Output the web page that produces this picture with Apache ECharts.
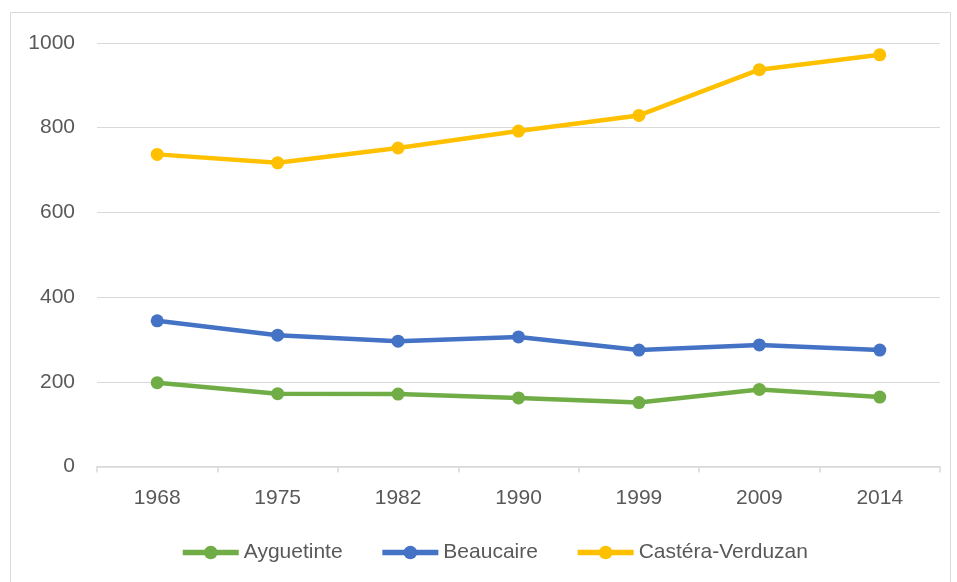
<!DOCTYPE html>
<html>
<head>
<meta charset="utf-8">
<script src="https://cdn.jsdelivr.net/npm/echarts@6/dist/echarts.min.js"></script>
<style>
  html, body { margin: 0; padding: 0; background: #fff; }
  #chart { width: 957px; height: 582px; }
</style>
</head>
<body>
<div id="chart"></div>
<script>
// Population by census year for three communes
const years = ['1968', '1975', '1982', '1990', '1999', '2009', '2014'];
const ayguetinte = [198, 172, 171, 162, 151, 182, 164];
const beaucaire = [344, 310, 296, 306, 275, 287, 275];
const casteraVerduzan = [737, 717, 752, 792, 829, 937, 972];

const FONT = 'Liberation Sans, Arial, sans-serif';
const TEXT = '#595959';
const GRIDC = '#d9d9d9';

function lineSeries(name, data, color) {
  return {
    name: name,
    type: 'line',
    data: data,
    symbol: 'circle',
    symbolSize: 13,
    lineStyle: { width: 4.5, color: color },
    itemStyle: { color: color },
    emphasis: { disabled: true }
  };
}

const chart = echarts.init(document.getElementById('chart'), null, { renderer: 'canvas' });
chart.setOption({
  animation: false,
  backgroundColor: '#fff',
  textStyle: { fontFamily: FONT },
  graphic: [{
    type: 'rect',
    shape: { x: 10.5, y: 12.5, width: 940, height: 580 },
    style: { fill: 'none', stroke: GRIDC, lineWidth: 1 },
    silent: true
  }],
  grid: { left: 97, right: 17, top: 43, bottom: 115.5, containLabel: false },
  legend: {
    top: 537,
    left: 175,
    itemWidth: 56,
    itemHeight: 17,
    itemGap: 37,
    lineStyle: { width: 5.5 },
    textStyle: { color: TEXT, fontSize: 21, fontFamily: FONT },
    data: ['Ayguetinte', 'Beaucaire', 'Castéra-Verduzan']
  },
  xAxis: {
    type: 'category',
    data: years,
    boundaryGap: true,
    axisLine: { lineStyle: { color: GRIDC, width: 1.5 } },
    axisTick: { show: true, length: 6, lineStyle: { color: GRIDC, width: 1.5 } },
    axisLabel: { color: TEXT, fontSize: 21, margin: 21, fontFamily: FONT },
    splitLine: { show: false }
  },
  yAxis: {
    type: 'value',
    min: 0,
    max: 1000,
    interval: 200,
    axisLine: { show: false },
    axisTick: { show: false },
    axisLabel: { color: TEXT, fontSize: 21, margin: 22, fontFamily: FONT, formatter: function (v) { return String(v); } },
    splitLine: { lineStyle: { color: GRIDC, width: 1 } }
  },
  series: [
    lineSeries('Ayguetinte', ayguetinte, '#70ad47'),
    lineSeries('Beaucaire', beaucaire, '#4472c4'),
    lineSeries('Castéra-Verduzan', casteraVerduzan, '#ffc000')
  ]
});
</script>
</body>
</html>
